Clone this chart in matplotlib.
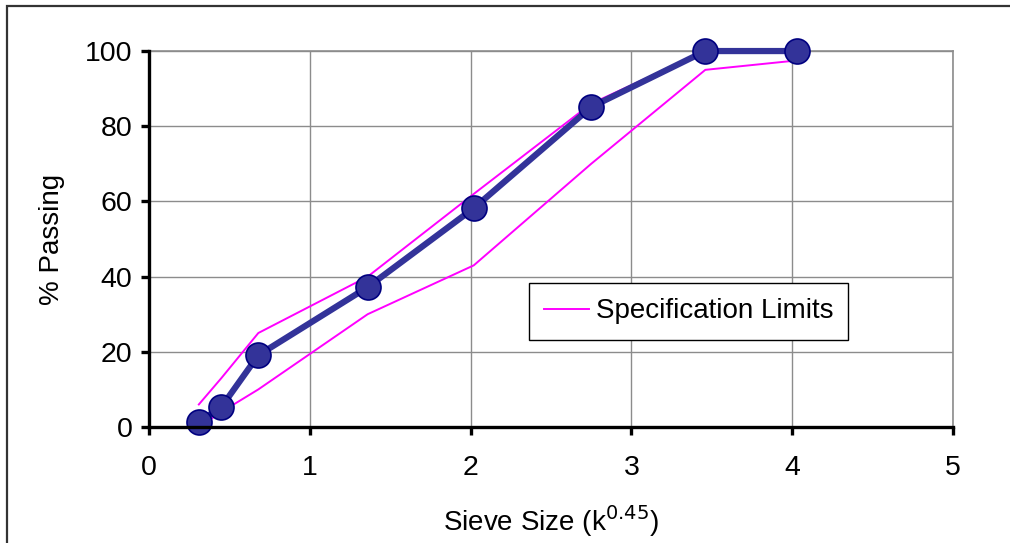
import matplotlib
matplotlib.use("Agg")
import matplotlib.pyplot as plt
from matplotlib.patches import Rectangle

plt.rcParams['font.family'] = ['Liberation Sans', 'DejaVu Sans']

# sieve sizes raised to 0.45
sieve = [0.31, 0.45, 0.68, 1.36, 2.02, 2.75, 3.46, 4.03]
passing = [1.3, 5.3, 19.1, 37.2, 58.2, 85.1, 100, 100]
spec_upper = [6, 13, 25, 40, 62, 86, 100, 100]
spec_lower = [0, 4, 10, 30, 43, 70, 95, 97.5]

fig = plt.figure(figsize=(10.1, 5.43), dpi=100)
ax = fig.add_axes([0.1475, 0.2136, 0.796, 0.6924])

# outer frame (partly cut off in the original)
fig.patches.append(Rectangle((0.007, -0.05), 1.1, 1.039, transform=fig.transFigure,
                             fill=False, edgecolor='#333333', linewidth=1.6))

ax.plot(sieve, spec_upper, color='#ff00ff', linewidth=1.4, label='Specification Limits', zorder=3)
ax.plot(sieve, spec_lower, color='#ff00ff', linewidth=1.4, zorder=3)
ax.plot(sieve, passing, color='#333399', linewidth=4.5, marker='o', markersize=18,
        markerfacecolor='#333399', markeredgecolor='#000080', markeredgewidth=1.2, zorder=4,
        clip_on=False)

ax.set_xlim(0, 5)
ax.set_ylim(0, 100)
ax.set_xticks([0, 1, 2, 3, 4, 5])
ax.set_yticks([0, 20, 40, 60, 80, 100])
ax.grid(True, color='#8c8c8c', linewidth=1.0)
ax.set_axisbelow(True)

for s in ['left', 'bottom']:
    ax.spines[s].set_color('black')
    ax.spines[s].set_linewidth(2.4)
for s in ['top', 'right']:
    ax.spines[s].set_color('#8c8c8c')
    ax.spines[s].set_linewidth(1.2)
ax.spines['left'].set_zorder(5)
ax.spines['bottom'].set_zorder(5)

ax.tick_params(axis='both', direction='out', length=6, width=2.4, labelsize=20.5, pad=6)
ax.tick_params(axis='x', pad=14)

ax.set_xlabel('Sieve Size (k$^{0.45}$)', fontsize=20, labelpad=16)
ax.set_ylabel('% Passing', fontsize=20, labelpad=14)

leg = ax.legend(loc='upper left', bbox_to_anchor=(0.4726, 0.383), borderaxespad=0,
                fontsize=20, frameon=True, fancybox=False, edgecolor='black', framealpha=1,
                handlelength=1.6, borderpad=0.55, handletextpad=0.25)
leg.get_frame().set_linewidth(1.0)

fig.savefig('out.png', dpi=100)
